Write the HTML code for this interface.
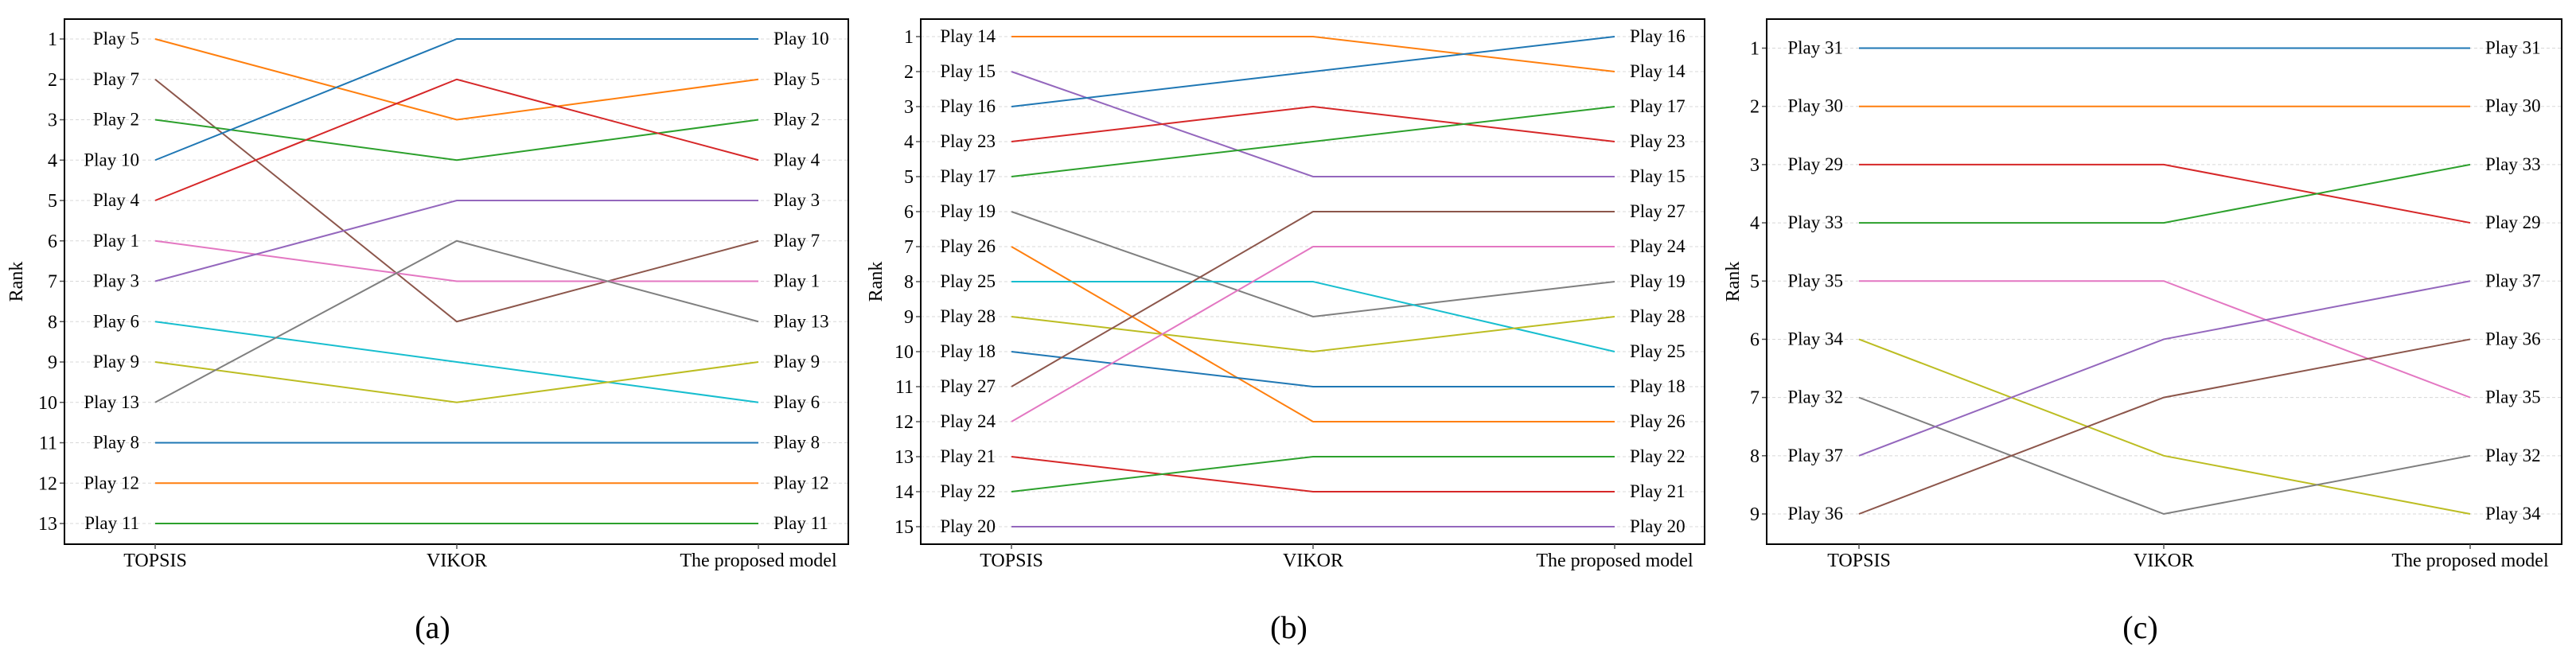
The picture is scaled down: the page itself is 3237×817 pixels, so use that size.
<!DOCTYPE html>
<html><head><meta charset="utf-8">
<style>
html,body{margin:0;padding:0;background:#fff;}
svg{display:block;}
svg text{font-family:"Liberation Serif","DejaVu Serif",serif;}
</style></head>
<body>
<svg id="chart" width="3237" height="817" viewBox="0 0 3237 817" xmlns="http://www.w3.org/2000/svg" font-family="Liberation Serif, DejaVu Serif, serif"></svg>
<script>
const methods = ["TOPSIS", "VIKOR", "The proposed model"];
// Panel (a)
const aPlays = ["Play 5","Play 7","Play 2","Play 10","Play 4","Play 1","Play 3","Play 6","Play 9","Play 13","Play 8","Play 12","Play 11"];
const aTopsis = [1,2,3,4,5,6,7,8,9,10,11,12,13];
const aVikor = [3,8,4,1,2,7,5,9,10,6,11,12,13];
const aProposed = [2,6,3,1,4,7,5,10,9,8,11,12,13];
const aColors = ["#ff7f0e","#8c564b","#2ca02c","#1f77b4","#d62728","#e377c2","#9467bd","#17becf","#bcbd22","#7f7f7f","#1f77b4","#ff7f0e","#2ca02c"];
// Panel (b)
const bPlays = ["Play 14","Play 15","Play 16","Play 23","Play 17","Play 19","Play 26","Play 25","Play 28","Play 18","Play 27","Play 24","Play 21","Play 22","Play 20"];
const bTopsis = [1,2,3,4,5,6,7,8,9,10,11,12,13,14,15];
const bVikor = [1,5,2,3,4,9,12,8,10,11,6,7,14,13,15];
const bProposed = [2,5,1,4,3,8,12,10,9,11,6,7,14,13,15];
const bColors = ["#ff7f0e","#9467bd","#1f77b4","#d62728","#2ca02c","#7f7f7f","#ff7f0e","#17becf","#bcbd22","#1f77b4","#8c564b","#e377c2","#d62728","#2ca02c","#9467bd"];
// Panel (c)
const cPlays = ["Play 31","Play 30","Play 29","Play 33","Play 35","Play 34","Play 32","Play 37","Play 36"];
const cTopsis = [1,2,3,4,5,6,7,8,9];
const cVikor = [1,2,3,4,5,8,9,6,7];
const cProposed = [1,2,4,3,7,9,8,5,6];
const cColors = ["#1f77b4","#ff7f0e","#d62728","#2ca02c","#e377c2","#bcbd22","#7f7f7f","#9467bd","#8c564b"];
const captions = ["(a)","(b)","(c)"];

const NS = "http://www.w3.org/2000/svg";
const FONT = '"Liberation Serif","DejaVu Serif",serif';
const svg = document.getElementById("chart");
function mk(tag, attrs, parent){
  const e = document.createElementNS(NS, tag);
  for (const k in attrs) e.setAttribute(k, attrs[k]);
  if (tag === "text") e.style.fontFamily = FONT;
  parent.appendChild(e);
  return e;
}

function panel(cfg, plays, topsis, vikor, proposed, colors, caption, idx){
  const g = mk("g", {}, svg);
  
  
  const n = plays.length;
  const y = r => cfg.y1 + (r - 1) * (cfg.yn - cfg.y1) / (n - 1);
  const xs = cfg.xs;
  for (let r = 1; r <= n; r++){
    const gl = mk("line", {x1:cfg.left, x2:cfg.right, y1:y(r), y2:y(r), stroke:"#d8d8d8", "stroke-width":1, "stroke-dasharray":"4,3"}, g);
    
    
    const tk = mk("line", {x1:cfg.left-6, x2:cfg.left, y1:y(r), y2:y(r), stroke:"#555", "stroke-width":1.5}, g);
    
    
    const tl = mk("text", {x:cfg.left-9, y:y(r)+8, "text-anchor":"end", "font-size":24, fill:"#000"}, g);
    tl.textContent = r;
    
    
  }
  for (let i = 0; i < n; i++){
    const ranks = [topsis[i], vikor[i], proposed[i]];
    const pts = ranks.map((r, j) => xs[j] + "," + y(r)).join(" ");
    const pl = mk("polyline", {points:pts, fill:"none", stroke:colors[i], "stroke-width":2}, g);
    
    
    const ll = mk("text", {x:xs[0]-20, y:y(topsis[i])+7, "text-anchor":"end", "font-size":23, fill:"#000"}, g);
    ll.textContent = plays[i];
    
    
    const rl = mk("text", {x:xs[2]+19, y:y(proposed[i])+7, "text-anchor":"start", "font-size":23, fill:"#000"}, g);
    rl.textContent = plays[i];
    
    
  }
  const fr = mk("rect", {x:cfg.left, y:24, width:cfg.right-cfg.left, height:660, fill:"none", stroke:"#000", "stroke-width":2}, g);
  
  
  methods.forEach((m, j) => {
    const t = mk("line", {x1:xs[j], x2:xs[j], y1:684, y2:690, stroke:"#555", "stroke-width":1.5}, g);
    
    
    const tx = mk("text", {x:xs[j], y:712, "text-anchor":"middle", "font-size":24, fill:"#000"}, g);
    tx.textContent = m;
    
    
  });
  const yt = mk("text", {x:cfg.rankX, y:354, "text-anchor":"middle", "font-size":24, fill:"#000", transform:"rotate(-90 " + cfg.rankX + " 354)"}, g);
  yt.textContent = "Rank";
  
  
  const cap = mk("text", {x:(cfg.left+cfg.right)/2 - 30, y:802, "text-anchor":"middle", "font-size":40, fill:"#000"}, g);
  cap.textContent = caption;
  
  
}

panel({left:81, right:1066, y1:49, yn:658, xs:[195,574,953], rankX:28}, aPlays, aTopsis, aVikor, aProposed, aColors, captions[0], 0);
panel({left:1157, right:2142, y1:46, yn:662, xs:[1271,1650,2029], rankX:1108}, bPlays, bTopsis, bVikor, bProposed, bColors, captions[1], 1);
panel({left:2220, right:3219, y1:60.5, yn:646, xs:[2336,2719,3104], rankX:2185}, cPlays, cTopsis, cVikor, cProposed, cColors, captions[2], 2);
</script>
</body></html>
